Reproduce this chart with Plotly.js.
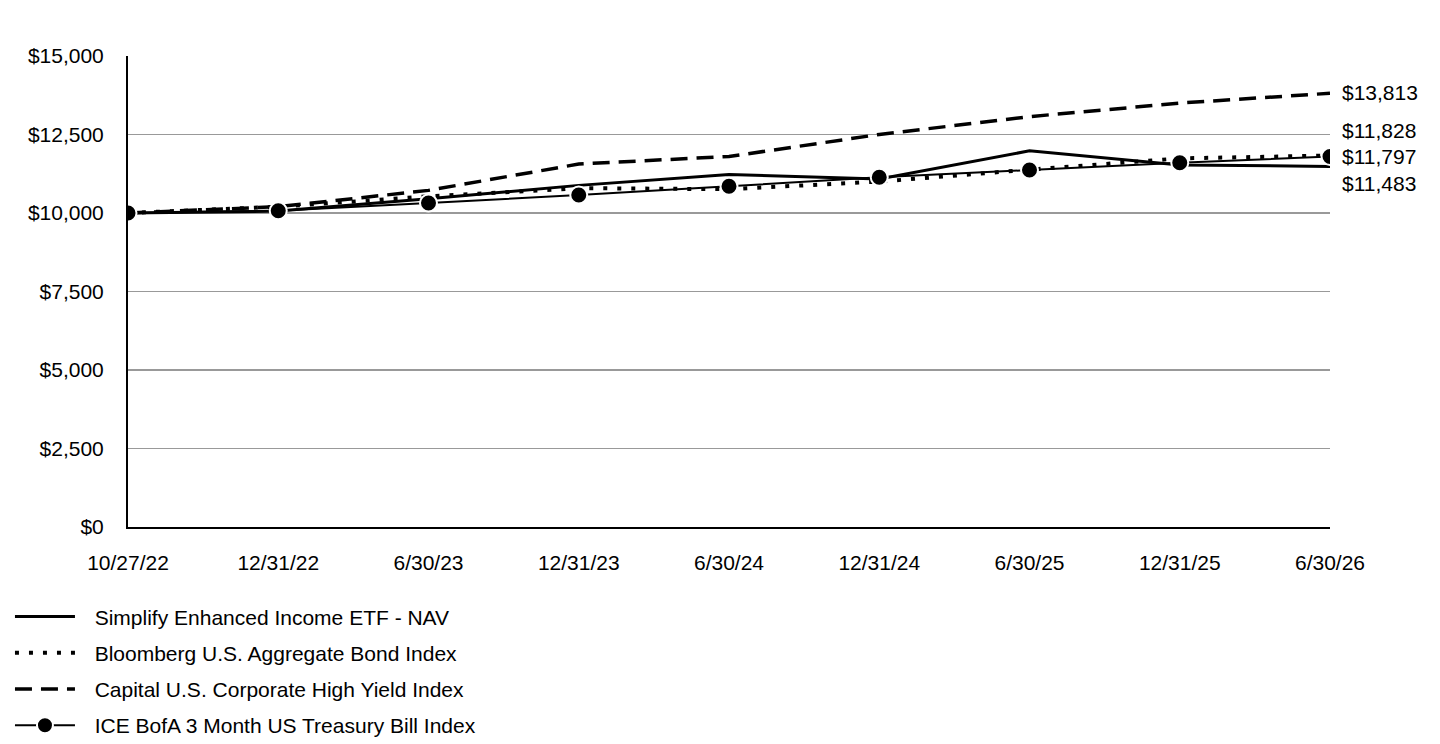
<!DOCTYPE html>
<html>
<head>
<meta charset="utf-8">
<script src="https://cdn.plot.ly/plotly-3.0.1.min.js"></script>
<style>
  html, body { margin: 0; padding: 0; background: #fff; }
  #chart { width: 1440px; height: 744px; }
</style>
</head>
<body>
<div id="chart"></div>
<script>
// Growth of $10,000
const dates = ['10/27/22', '12/31/22', '6/30/23', '12/31/23', '6/30/24', '12/31/24', '6/30/25', '12/31/25', '6/30/26'];
const navValues = [10000, 10060, 10450, 10880, 11230, 11080, 11980, 11530, 11483];
const aggValues = [10000, 10200, 10530, 10790, 10760, 11000, 11380, 11740, 11828];
const hyValues = [10000, 10200, 10720, 11560, 11800, 12500, 13070, 13500, 13813];
const tbillValues = [10000, 10073, 10320, 10573, 10850, 11137, 11369, 11602, 11797];

const names = [
    'Simplify Enhanced Income ETF - NAV',
    'Bloomberg U.S. Aggregate Bond Index',
    'Capital U.S. Corporate High Yield Index',
    'ICE BofA 3 Month US Treasury Bill Index'
];

const yTicks = [0, 2500, 5000, 7500, 10000, 12500, 15000];
const yTickText = ['$0', '$2,500', '$5,000', '$7,500', '$10,000', '$12,500', '$15,000'];

const fontFamily = 'Liberation Sans, Arial, sans-serif';
const fontSize = 21;
// small gap between the legend sample and its text
const legendGap = '\u2002\u2009';

function fmt(v) {
    return '$' + v.toLocaleString('en-US');
}

const traces = [
    {
        x: dates, y: navValues, name: legendGap + names[0], legendgroup: 'a',
        type: 'scatter', mode: 'lines',
        line: { color: '#000', width: 3 }
    },
    {
        x: dates, y: aggValues, name: legendGap + names[1], legendgroup: 'b',
        type: 'scatter', mode: 'lines',
        line: { color: '#000', width: 4, dash: '4px,10px' }
    },
    {
        x: dates, y: hyValues, name: legendGap + names[2], legendgroup: 'c',
        type: 'scatter', mode: 'lines',
        line: { color: '#000', width: 3.5, dash: '17px,9px' }
    },
    {
        x: dates, y: tbillValues, name: legendGap + names[3], legendgroup: 'd',
        type: 'scatter', mode: 'lines+markers',
        line: { color: '#000', width: 2 },
        marker: { color: '#000', size: 17, line: { color: '#fff', width: 2 } }
    }
];

// End-of-series labels, shifted apart so they don't overlap
const last = dates.length - 1;
const endLabels = [
    { v: hyValues[last], shift: 1 },
    { v: aggValues[last], shift: 25 },
    { v: tbillValues[last], shift: 0 },
    { v: navValues[last], shift: -17 }
];

const annotations = endLabels.map(l => ({
    x: dates[last], y: l.v, xref: 'x', yref: 'y',
    text: fmt(l.v), showarrow: false,
    xanchor: 'left', yanchor: 'middle',
    xshift: 10, yshift: l.shift,
    font: { family: fontFamily, size: fontSize, color: '#000' }
}));

const layout = {
    width: 1440,
    height: 744,
    margin: { l: 128, r: 110, t: 56, b: 217, pad: 0, autoexpand: false },
    paper_bgcolor: '#fff',
    plot_bgcolor: '#fff',
    font: { family: fontFamily, size: fontSize, color: '#000' },
    showlegend: true,
    legend: {
        x: -0.0982, xanchor: 'left',
        y: -0.147, yanchor: 'top',
        orientation: 'v',
        traceorder: 'grouped',
        tracegroupgap: 6,
        itemwidth: 60,
        font: { family: fontFamily, size: fontSize, color: '#000' },
        bgcolor: 'rgba(0,0,0,0)'
    },
    xaxis: {
        type: 'category',
        range: [0, last],
        showgrid: false,
        zeroline: false,
        showline: true,
        linecolor: '#000',
        linewidth: 2,
        ticks: '',
        ticklabelstandoff: 16,
        tickfont: { family: fontFamily, size: fontSize, color: '#000' },
        fixedrange: true
    },
    yaxis: {
        range: [0, 15000],
        tickvals: yTicks,
        ticktext: yTickText,
        showgrid: true,
        gridcolor: '#999',
        gridwidth: 1.5,
        zeroline: false,
        showline: true,
        linecolor: '#000',
        linewidth: 2,
        ticks: '',
        ticklabelstandoff: 18,
        tickfont: { family: fontFamily, size: fontSize, color: '#000' },
        fixedrange: true
    },
    annotations: annotations
};

Plotly.newPlot('chart', traces, layout, { staticPlot: true, displayModeBar: false });
</script>
</body>
</html>
